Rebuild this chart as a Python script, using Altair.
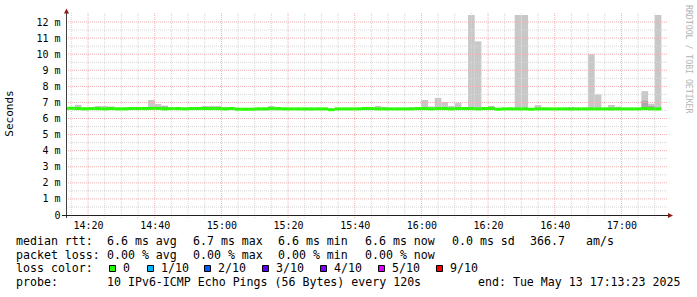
import altair as alt
import pandas as pd

# ---------------- data ----------------
# 2-minute buckets, minutes after 14:00 (14:12 ... 17:10)
step_start = list(range(12, 192, 2))

median_ms = [
    6.62,
    6.64, 6.62, 6.60, 6.62, 6.62, 6.60, 6.62, 6.60, 6.60, 6.62,
    6.62, 6.62, 6.63, 6.63, 6.60, 6.62, 6.62, 6.60, 6.62, 6.62,
    6.62, 6.62, 6.62, 6.60, 6.62, 6.58, 6.58, 6.58, 6.60, 6.60,
    6.62, 6.62, 6.60, 6.60, 6.60, 6.60, 6.60, 6.60, 6.60, 6.55,
    6.60, 6.60, 6.60, 6.60, 6.62, 6.62, 6.60, 6.60, 6.60, 6.60,
    6.60, 6.60, 6.62, 6.62, 6.60, 6.62, 6.62, 6.60, 6.62, 6.62,
    6.62, 6.60, 6.62, 6.62, 6.58, 6.60, 6.60, 6.60, 6.60, 6.58,
    6.60, 6.60, 6.60, 6.60, 6.60, 6.60, 6.60, 6.60, 6.60, 6.60,
    6.60, 6.60, 6.60, 6.60, 6.60, 6.60, 6.62, 6.60, 6.60,
]

smoke_max = [
    6.65,
    6.65, 6.85, 6.70, 6.70, 6.78, 6.78, 6.75, 6.68, 6.70, 6.70,
    6.66, 6.72, 7.15, 6.90, 6.80, 6.65, 6.70, 6.68, 6.70, 6.72,
    6.78, 6.78, 6.78, 6.72, 6.64, 6.62, 6.62, 6.64, 6.63, 6.65,
    6.78, 6.72, 6.65, 6.64, 6.64, 6.64, 6.63, 6.64, 6.62, 6.60,
    6.62, 6.65, 6.64, 6.63, 6.72, 6.65, 6.78, 6.72, 6.66, 6.66,
    6.66, 6.70, 6.65, 7.15, 6.75, 7.28, 7.03, 6.78, 6.96, 6.72,
    12.50, 10.80, 6.70, 6.75, 6.65, 6.65, 6.65, 12.50, 12.50, 6.65,
    6.84, 6.68, 6.62, 6.64, 6.64, 6.72, 6.64, 6.64, 10.00, 7.50,
    6.66, 6.84, 6.74, 6.65, 6.62, 6.62, 7.70, 6.92, 12.50,
]

smoke_min = [
    6.55,
    6.55, 6.55, 6.55, 6.55, 6.55, 6.55, 6.55, 6.55, 6.55, 6.55,
    6.55, 6.55, 6.55, 6.55, 6.55, 6.55, 6.55, 6.55, 6.55, 6.55,
    6.55, 6.55, 6.55, 6.55, 6.55, 6.55, 6.55, 6.55, 6.50, 6.50,
    6.50, 6.50, 6.55, 6.55, 6.55, 6.50, 6.50, 6.55, 6.55, 6.55,
    6.55, 6.55, 6.55, 6.55, 6.55, 6.55, 6.55, 6.55, 6.55, 6.55,
    6.55, 6.55, 6.55, 6.55, 6.55, 6.55, 6.55, 6.55, 6.55, 6.55,
    6.55, 6.55, 6.55, 6.55, 6.55, 6.55, 6.55, 6.55, 6.55, 6.55,
    6.55, 6.55, 6.55, 6.55, 6.55, 6.50, 6.55, 6.55, 6.55, 6.55,
    6.55, 6.50, 6.55, 6.55, 6.55, 6.55, 6.55, 6.55, 6.55,
]

dark_top = [None] * 90
dark_top[1 + 14] = 6.75
dark_top[1 + 63] = 6.75
dark_top[1 + 86] = 7.10
dark_top[1 + 87] = 6.78

grid_major_x = [20, 40, 60, 80, 100, 120, 140, 160, 180]
grid_minor_x = [v for v in range(15, 195, 5) if v % 20 != 0]
grid_major_y = list(range(1, 13))
grid_minor_y = [v + 0.5 for v in range(0, 12)]
y_label_values = list(range(0, 13))

loss_labels = ["0", "1/10", "2/10", "3/10", "4/10", "5/10", "9/10"]
loss_colors = ["#26ff00", "#00b8ff", "#0059ff", "#5e00ff", "#7e00ff", "#dd00ff", "#ff0000"]

row1 = ["median rtt:", "6.6 ms avg", "6.7 ms max", "6.6 ms min", "6.6 ms now",
        "0.0 ms sd", "366.7", "am/s"]
row2 = ["packet loss:", "0.00 % avg", "0.00 % max", "0.00 % min", "0.00 % now"]
row3 = ["loss color:"]
row4 = ["probe:", "10 IPv6-ICMP Echo Pings (56 Bytes) every 120s",
        "end: Tue May 13 17:13:23 2025"]

df = pd.DataFrame({
    "t0": step_start,
    "t1": [s + 2 for s in step_start],
    "med": median_ms,
    "hi": smoke_max,
    "lo": smoke_min,
    "dark": dark_top,
})

# ---------------- layout ----------------
OX, OY = 66, 15          # plot origin in page pixels
W, H = 600, 200
MONO = "DejaVu Sans Mono"

XS = alt.Scale(domain=[13.383, 193.383], nice=False, zero=False)
YS = alt.Scale(domain=[0, 200 / 16.08], nice=False, zero=False)

x_axis = alt.Axis(
    values=grid_major_x,
    labelExpr="format(floor(datum.value/60)+14,'d') + ':' + format(datum.value%60,'02d')",
    domain=False, ticks=False, grid=False, title=None,
    labelFont=MONO, labelFontSize=10, labelColor="#000000",
    labelPadding=5, labelFlush=False, labelOverlap=False,
)
y_axis = alt.Axis(
    values=y_label_values,
    labelExpr="datum.value == 0 ? '0\u00a0\u00a0' : datum.value + ' m'",
    domain=False, ticks=False, grid=False, title=None,
    labelFont=MONO, labelFontSize=10, labelColor="#000000",
    labelPadding=6, labelFlush=False, labelOverlap=False,
)

def X(field):
    return alt.X(field, scale=XS, axis=x_axis, title=None)

def Y(field):
    return alt.Y(field, scale=YS, axis=y_axis, title=None)

layers = []

smoke = alt.Chart(df).mark_rect(fill="#c8c8c8", clip=True).encode(
    x=X("t0:Q"), x2="t1:Q", y=Y("lo:Q"), y2="hi:Q",
)
layers.append(smoke)

dark = alt.Chart(df).transform_filter("isValid(datum.dark)").mark_rect(
    fill="#a8a8a8", clip=True).encode(
    x=X("t0:Q"), x2="t1:Q", y=Y("med:Q"), y2="dark:Q",
)
layers.append(dark)

def vgrid(vals, color):
    return alt.Chart(pd.DataFrame({"v": vals})).mark_rule(
        color=color, strokeWidth=1, strokeDash=[1, 1]).encode(
        x=X("v:Q"), y=alt.value(-2), y2=alt.value(H + 3),
    )

def hgrid(vals, color):
    return alt.Chart(pd.DataFrame({"v": vals})).mark_rule(
        color=color, strokeWidth=1, strokeDash=[1, 1]).encode(
        y=Y("v:Q"), x=alt.value(0), x2=alt.value(W + 2),
    )

layers += [
    hgrid(grid_minor_y, "#d6d6d6"),
    vgrid(grid_minor_x, "#d6d6d6"),
    hgrid(grid_major_y, "#ecb0b0"),
    vgrid(grid_major_x, "#ecb0b0"),
]

median = alt.Chart(df).mark_rule(color="#26ff00", strokeWidth=3, clip=True).encode(
    x=X("t0:Q"), x2="t1:Q", y=Y("med:Q"),
)
layers.append(median)

one = pd.DataFrame({"k": [0]})

# axis lines and arrows
layers.append(alt.Chart(one).mark_rule(color="#404040", strokeWidth=1).encode(
    x=alt.value(0.5), y=alt.value(-4), y2=alt.value(H + 3)))
layers.append(alt.Chart(one).mark_rule(color="#202020", strokeWidth=1).encode(
    x=alt.value(-4), x2=alt.value(W + 3), y=alt.value(H + 0.5)))
layers.append(alt.Chart(one).mark_point(
    shape="M-1,1L1,1L0,-1Z", size=25, filled=True, color="#8b1a1a", opacity=1).encode(
    x=alt.value(0.5), y=alt.value(11 - OY)))
layers.append(alt.Chart(one).mark_point(
    shape="M-1,-1L1,0L-1,1Z", size=25, filled=True, color="#8b1a1a", opacity=1).encode(
    x=alt.value(670.5 - OX), y=alt.value(H + 0.5)))

def text_at(px, py, s, size=11.6, color="#000000", angle=0, align="left",
            baseline="alphabetic", font=MONO):
    kw = dict(font=font, fontSize=size, color=color, align=align, baseline=baseline)
    if angle:
        kw["angle"] = angle
    return alt.Chart(one).mark_text(**kw).encode(
        x=alt.value(px - OX), y=alt.value(py - OY), text=alt.value(s))

# y axis title and watermark
layers.append(text_at(10, 113.5, "Seconds", size=11, angle=270,
                      align="center", baseline="middle"))
layers.append(text_at(688, 5, "RRDTOOL / TOBI OETIKER", size=8.2, color="#b4b4b4",
                      angle=90, align="left", baseline="middle"))

# legend rows
row_x = {
    1: [16, 107, 193, 278, 365, 452, 530, 586],
    2: [16, 107, 193, 278, 365],
    3: [16],
    4: [16, 107, 478],
}
row_y = {1: 244.8, 2: 258.5, 3: 272.3, 4: 286.0}
for r, items in ((1, row1), (2, row2), (3, row3), (4, row4)):
    for px, s in zip(row_x[r], items):
        layers.append(text_at(px, row_y[r], s))

box_x = [109, 147, 204, 262, 320, 378, 436]
for bx, lab, col in zip(box_x, loss_labels, loss_colors):
    layers.append(alt.Chart(one).mark_rect(
        fill=col, stroke="#000000", strokeWidth=1).encode(
        x=alt.value(bx + 0.5 - OX), x2=alt.value(bx + 6.5 - OX),
        y=alt.value(265.5 - OY), y2=alt.value(271.5 - OY)))
    layers.append(text_at(bx + 14, row_y[3], lab))

chart = alt.layer(*layers).properties(
    width=W, height=H,
    padding={"left": OX, "top": OY, "right": 697 - OX - W, "bottom": 297 - OY - H},
    autosize=alt.AutoSizeParams(type="none"),
    background="white",
).configure_view(strokeWidth=0)

chart.save("out.html", embed_options={"renderer": "svg", "actions": False})
